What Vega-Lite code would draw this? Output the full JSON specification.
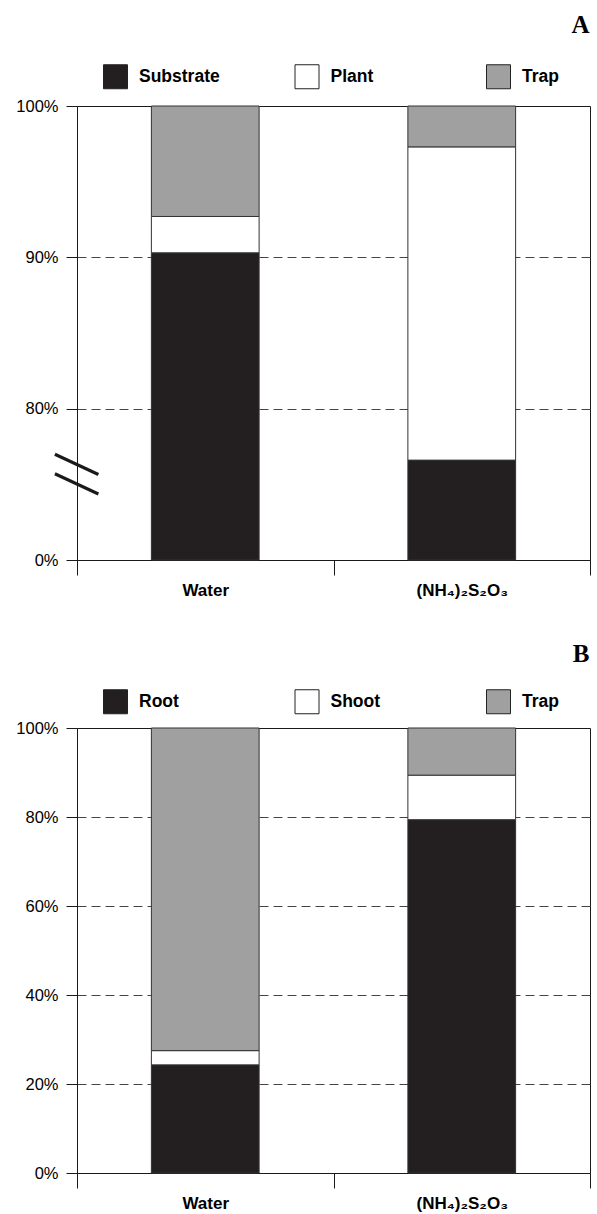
{
  "$schema": "https://vega.github.io/schema/vega-lite/v6.json",
  "padding": {"left": 15, "right": 6, "top": 12, "bottom": 0},
  "background": "#ffffff",
  "config": {
    "font": "Liberation Sans",
    "view": {"stroke": "#1a1a1a", "strokeWidth": 1},
    "concat": {"spacing": 42},
    "axisX": {
      "title": null, "labelAngle": 0, "labelFontWeight": "bold", "labelFontSize": 17,
      "labelFont": "Liberation Sans",
      "labelColor": "#000", "tickBand": "extent", "tickSize": 15, "tickColor": "#1a1a1a",
      "domainColor": "#1a1a1a", "labelPadding": 7, "grid": false
    },
    "axisY": {
      "title": null, "tickSize": 11, "labelPadding": 8, "labelFontSize": 16.5, "labelColor": "#000",
      "domainColor": "#1a1a1a", "tickColor": "#1a1a1a", "gridColor": "#444444",
      "gridDash": [9, 5], "gridWidth": 1
    },
    "legend": {
      "title": null, "orient": "none", "direction": "horizontal", "columns": 3, "gridAlign": "all",
      "symbolType": "square", "symbolSize": 576, "symbolStrokeColor": "#222222", "symbolStrokeWidth": 1,
      "labelFontSize": 17.5, "labelFontWeight": "bold", "labelColor": "#000", "labelOffset": 11,
      "padding": 0, "rowPadding": 0
    },
    "title": {"anchor": "end", "font": "Liberation Serif", "fontSize": 25, "fontWeight": "bold", "color": "#000"}
  },
  "datasets": {
    "a": [
      {"treatment": "Water", "part": "Substrate", "rank": 1, "pct": 90.3},
      {"treatment": "Water", "part": "Plant", "rank": 2, "pct": 2.4},
      {"treatment": "Water", "part": "Trap", "rank": 3, "pct": 7.3},
      {"treatment": "(NH₄)₂S₂O₃", "part": "Substrate", "rank": 1, "pct": 76.6},
      {"treatment": "(NH₄)₂S₂O₃", "part": "Plant", "rank": 2, "pct": 20.7},
      {"treatment": "(NH₄)₂S₂O₃", "part": "Trap", "rank": 3, "pct": 2.7}
    ],
    "b": [
      {"treatment": "Water", "part": "Root", "rank": 1, "pct": 24.3},
      {"treatment": "Water", "part": "Shoot", "rank": 2, "pct": 3.2},
      {"treatment": "Water", "part": "Trap", "rank": 3, "pct": 72.5},
      {"treatment": "(NH₄)₂S₂O₃", "part": "Root", "rank": 1, "pct": 79.4},
      {"treatment": "(NH₄)₂S₂O₃", "part": "Shoot", "rank": 2, "pct": 10.0},
      {"treatment": "(NH₄)₂S₂O₃", "part": "Trap", "rank": 3, "pct": 10.6}
    ]
  },
  "vconcat": [
    {
      "width": 513,
      "height": 454,
      "title": {"text": "A", "offset": 26, "dx": -1},
      "data": {"name": "a"},
      "layer": [
        {
          "mark": {"type": "bar", "width": {"band": 0.42}, "stroke": "#333333", "strokeWidth": 1},
          "encoding": {
            "x": {"field": "treatment", "type": "nominal", "sort": ["Water", "(NH₄)₂S₂O₃"],
                  "scale": {"paddingInner": 0, "paddingOuter": 0}},
            "y": {"field": "pct", "type": "quantitative", "stack": "zero",
                  "scale": {"domain": [70, 100], "clamp": true, "nice": false, "zero": false},
                  "axis": {"values": [70, 80, 90, 100],
                           "labelExpr": "datum.value == 70 ? '0%' : datum.value + '%'",
                           "gridOpacity": {"condition": {"test": "datum.value == 70 || datum.value == 100", "value": 0}, "value": 1}}},
            "order": {"field": "rank", "type": "quantitative", "sort": "ascending"},
            "color": {"field": "part", "type": "nominal",
                      "scale": {"domain": ["Substrate", "Plant", "Trap"], "range": ["#231f20", "#ffffff", "#a0a0a0"]},
                      "legend": {"legendX": 26, "legendY": -42, "columnPadding": 72.5}}
          }
        },
        {
          "mark": {"type": "point", "opacity": 0},
          "encoding": {
            "y": {"field": "pct", "type": "quantitative",
                  "axis": {"orient": "left", "values": [75.17, 76.47], "labelExpr": "'—'", "labelAngle": 25,
                           "labelAlign": "center", "labelBaseline": "middle", "labelPadding": 0,
                           "ticks": false, "domain": false, "grid": false, "labelFontSize": 48,
                           "labelOverlap": false, "labelFlush": false, "labelBound": false,
                           "labelColor": "#1a1a1a", "offset": 0}}
          }
        }
      ],
      "resolve": {"axis": {"y": "independent"}}
    },
    {
      "width": 513,
      "height": 445,
      "title": {"text": "B", "offset": 22, "dx": -1},
      "data": {"name": "b"},
      "mark": {"type": "bar", "width": {"band": 0.42}, "stroke": "#333333", "strokeWidth": 1},
      "encoding": {
        "x": {"field": "treatment", "type": "nominal", "sort": ["Water", "(NH₄)₂S₂O₃"],
              "scale": {"paddingInner": 0, "paddingOuter": 0}},
        "y": {"field": "pct", "type": "quantitative", "stack": "zero",
              "scale": {"domain": [0, 100], "nice": false},
              "axis": {"values": [0, 20, 40, 60, 80, 100],
                       "labelExpr": "datum.value + '%'",
                       "gridOpacity": {"condition": {"test": "datum.value == 0 || datum.value == 100", "value": 0}, "value": 1}}},
        "order": {"field": "rank", "type": "quantitative", "sort": "ascending"},
        "color": {"field": "part", "type": "nominal",
                  "scale": {"domain": ["Root", "Shoot", "Trap"], "range": ["#231f20", "#ffffff", "#a0a0a0"]},
                  "legend": {"legendX": 26, "legendY": -39, "columnPadding": 103.5}}
      }
    }
  ],
  "resolve": {"scale": {"color": "independent", "y": "independent"}, "legend": {"color": "independent"}}
}
